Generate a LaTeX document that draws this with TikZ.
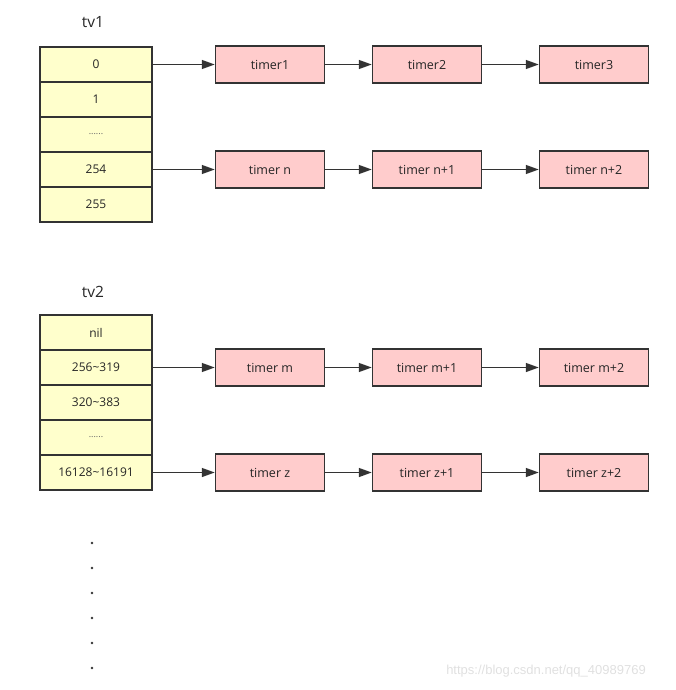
\documentclass[tikz,border=0pt]{standalone}
\usepackage{fontspec}
\setmainfont{Open Sans}
\newfontfamily\wmfont{Liberation Sans}
\usetikzlibrary{arrows.meta}
\definecolor{cellyellow}{HTML}{FFFFCC}
\definecolor{timerpink}{HTML}{FFCCCC}
\definecolor{edge}{HTML}{333333}
\tikzset{
  cell/.style={draw=edge, fill=cellyellow, line width=1.5pt, minimum width=112pt, minimum height=35pt, inner sep=0pt, font=\fontsize{12}{14}\selectfont, text=black!85},
  smallcell/.style={cell, font=\fontsize{9}{10}\selectfont, text=black!60},
  timer/.style={draw=edge, fill=timerpink, line width=1.5pt, minimum width=109pt, minimum height=37pt, inner sep=0pt, font=\fontsize{12.5}{14}\selectfont, text=black!85},
  link/.style={draw=edge, line width=1.4pt, -{Triangle[length=13pt,width=9pt]}},
  title/.style={font=\fontsize{15.5}{18}\selectfont, text=black!85},
  dot/.style={circle, fill=black!80, inner sep=0pt, minimum size=2.8pt}
}
\begin{document}
\begin{tikzpicture}[x=1pt,y=-1pt]
\useasboundingbox (0,0) rectangle (676,690);
% tv1
\node[title] (tv1) at (93,22) {tv1};
\node[cell] (a0) at (96,64.5) {0};
\node[cell] (a1) at (96,99.5) {1};
\node[smallcell] (a2) at (96,134.5) {......};
\node[cell] (a3) at (96,169.5) {254};
\node[cell] (a4) at (96,204.5) {255};
\node[timer] (t1) at (270,64.5) {timer1};
\node[timer] (t2) at (427,64.5) {timer2};
\node[timer] (t3) at (594,64.5) {timer3};
\node[timer] (n1) at (270,169.5) {timer n};
\node[timer] (n2) at (427,169.5) {timer n+1};
\node[timer] (n3) at (594,169.5) {timer n+2};
\draw[link] (a0) -- (t1);
\draw[link] (t1) -- (t2);
\draw[link] (t2) -- (t3);
\draw[link] (a3) -- (n1);
\draw[link] (n1) -- (n2);
\draw[link] (n2) -- (n3);
% tv2
\node[title] (tv2) at (93,292) {tv2};
\node[cell] (b0) at (96,332.5) {nil};
\node[cell] (b1) at (96,367.5) {256\textasciitilde319};
\node[cell] (b2) at (96,402.5) {320\textasciitilde383};
\node[smallcell] (b3) at (96,437.5) {......};
\node[cell] (b4) at (96,472.5) {16128\textasciitilde16191};
\node[timer] (m1) at (270,367.5) {timer m};
\node[timer] (m2) at (427,367.5) {timer m+1};
\node[timer] (m3) at (594,367.5) {timer m+2};
\node[timer] (z1) at (270,472.5) {timer z};
\node[timer] (z2) at (427,472.5) {timer z+1};
\node[timer] (z3) at (594,472.5) {timer z+2};
\draw[link] (b1) -- (m1);
\draw[link] (m1) -- (m2);
\draw[link] (m2) -- (m3);
\draw[link] (b4) -- (z1);
\draw[link] (z1) -- (z2);
\draw[link] (z2) -- (z3);
% dots
\foreach \i/\y in {1/543,2/568,3/593,4/618,5/643,6/668}
  \node[dot] (d\i) at (92,\y) {};
% watermark
\node[font=\wmfont\fontsize{13}{15}\selectfont, text=black!12] (wm) at (546,671) {https://blog.csdn.net/qq\_40989769};
\end{tikzpicture}
\end{document}
